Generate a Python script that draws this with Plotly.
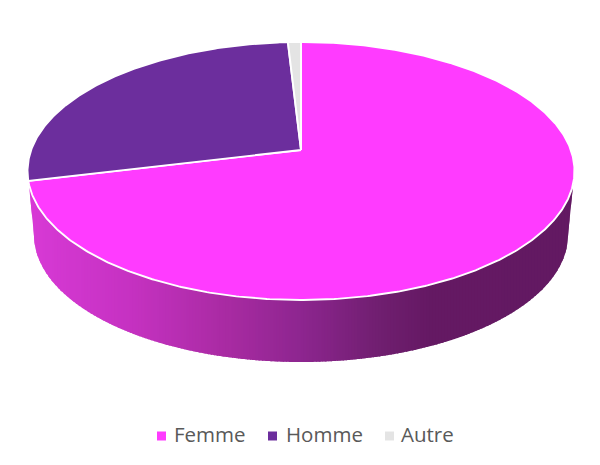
import numpy as np
import plotly.graph_objs as go

categories = ['Femme', 'Homme', 'Autre']
values = [71.2, 27.9, 0.9]
slice_colors = ['#ff3bff', '#6c2e9d', '#e4e4e4']

legend_marker_x = [161.5, 272.5, 389.5]
legend_text_x = [174, 286, 401]
legend_marker_y = 436
legend_text_y = 437

# pie geometry in page pixels
apex_x, apex_y = 301, 150
rim_cy, rim_rx, rim_ry = 171, 273.5, 129
floor_cy, floor_rx, floor_ry = 235, 267, 127
# perspective: far half of the disc looks smaller than the near half
far_h, near_h = apex_y - 42, 300 - apex_y
persp = (near_h - far_h) / (near_h + far_h)
a_y = far_h * (1 + persp)
a_x = rim_rx * np.sqrt(1 - persp ** 2)

# side shading, left to right
shade_x = [30, 130, 230, 300, 380, 430, 575]
shade_r = [216, 198, 168, 142, 112, 101, 99]
shade_g = [58, 50, 43, 38, 31, 25, 26]
shade_b = [214, 194, 162, 144, 112, 100, 98]


def slice_path(start, end):
    theta = np.radians(np.linspace(start, end, max(int(end - start) * 2, 8)))
    u, v = np.sin(theta), np.cos(theta)
    w = 1 + persp * v
    xs = apex_x + a_x * u / w
    ys = apex_y - a_y * v / w
    return [apex_x, *xs, apex_x], [apex_y, *ys, apex_y]


fig = go.Figure()

# lower outline of the wall: rim edge down to the floor ellipse and back up
t = np.radians(np.linspace(180, 360, 181))
outline_x = [apex_x - rim_rx, *(apex_x + floor_rx * np.cos(t)), apex_x + rim_rx]
outline_y = [rim_cy, *(floor_cy - floor_ry * np.sin(t)), rim_cy]

# front wall as vertical strips so the colour changes only along x.
# each strip runs under the next one, otherwise white shows in the seams.
# the top of each strip is hidden under the top face
wall_right = apex_x + rim_rx
for x0 in np.arange(apex_x - rim_rx, wall_right, 3):
    x1 = min(x0 + 5, wall_right)
    col = 'rgb(%d,%d,%d)' % (np.interp(x0 + 1.5, shade_x, shade_r),
                             np.interp(x0 + 1.5, shade_x, shade_g),
                             np.interp(x0 + 1.5, shade_x, shade_b))
    xs = [x0, *np.linspace(x0, x1, 6), x1]
    ys = [rim_cy, *np.interp(np.linspace(x0, x1, 6), outline_x, outline_y), rim_cy]
    fig.add_trace(go.Scatter(x=xs, y=ys, mode='none', fill='toself', fillcolor=col,
                             hoverinfo='skip', showlegend=False))

# top face
start = 0
for name, val, col in zip(categories, values, slice_colors):
    end = start + val / sum(values) * 360
    xs, ys = slice_path(start, end)
    fig.add_trace(go.Scatter(x=xs, y=ys, mode='lines', fill='toself', fillcolor=col,
                             line=dict(color='white', width=1.9), name=name, showlegend=False))
    start = end

# legend row
fig.add_trace(go.Scatter(x=legend_marker_x, y=[legend_marker_y] * 3, mode='markers',
                         marker=dict(symbol='square', size=9, color=slice_colors),
                         hoverinfo='skip', showlegend=False))
fig.add_trace(go.Scatter(x=legend_text_x, y=[legend_text_y] * 3, mode='text', text=categories,
                         textposition='middle right',
                         textfont=dict(family='Open Sans', size=20.5, color='#595959'),
                         hoverinfo='skip', showlegend=False))

fig.update_xaxes(range=[0, 600], visible=False, fixedrange=True)
fig.update_yaxes(range=[465, 0], visible=False, fixedrange=True)
fig.update_layout(width=600, height=465, margin=dict(l=0, r=0, t=0, b=0),
                  plot_bgcolor='white', paper_bgcolor='white', showlegend=False)

fig.write_html("out.html", config=dict(displayModeBar=False),
               post_script="document.body.style.margin='0';")
